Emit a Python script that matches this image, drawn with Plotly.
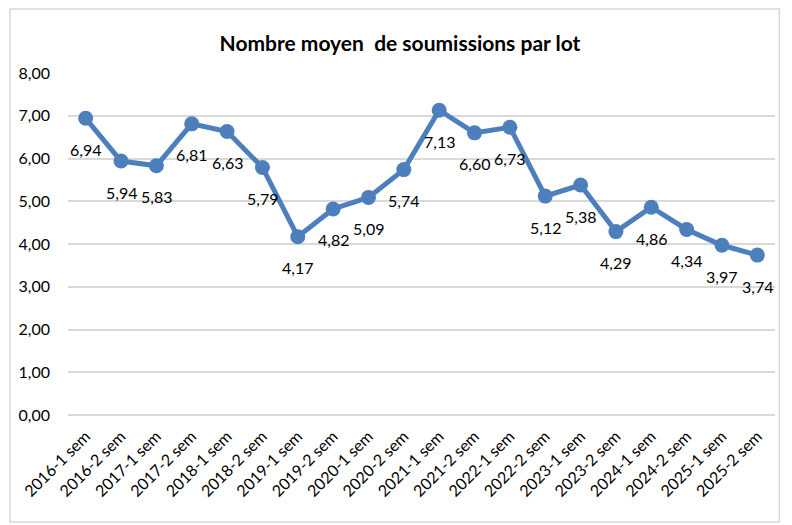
import plotly.graph_objects as go

categories = ["2016-1 sem", "2016-2 sem", "2017-1 sem", "2017-2 sem", "2018-1 sem",
              "2018-2 sem", "2019-1 sem", "2019-2 sem", "2020-1 sem", "2020-2 sem",
              "2021-1 sem", "2021-2 sem", "2022-1 sem", "2022-2 sem", "2023-1 sem",
              "2023-2 sem", "2024-1 sem", "2024-2 sem", "2025-1 sem", "2025-2 sem"]
values = [6.94, 5.94, 5.83, 6.81, 6.63, 5.79, 4.17, 4.82, 5.09, 5.74,
          7.13, 6.60, 6.73, 5.12, 5.38, 4.29, 4.86, 4.34, 3.97, 3.74]
title_text = "Nombre moyen\u00a0 de soumissions par lot"

FONT = "Lato, 'Open Sans', sans-serif"
BLUE = "#4E7FBD"
W, H = 784, 517

fig = go.Figure()
fig.add_trace(go.Scatter(
    x=categories, y=values, mode="lines+markers",
    line=dict(color=BLUE, width=5),
    marker=dict(color=BLUE, size=15),
    hoverinfo="skip", showlegend=False,
))

for c, v in zip(categories, values):
    fig.add_annotation(x=c, y=v, text=f"{v:.2f}".replace(".", ","),
                       showarrow=False, yshift=-31,
                       font=dict(family=FONT, size=16, color="#000000"))

fig.add_shape(type="rect", xref="paper", yref="paper",
              x0=-0.0820, x1=1.006, y0=-0.313, y1=1.187,
              line=dict(color="#D9D9D9", width=1.5), fillcolor="rgba(0,0,0,0)",
              layer="below")

fig.update_layout(
    width=W, height=H,
    margin=dict(l=60, r=17, t=65, b=110),
    paper_bgcolor="white", plot_bgcolor="white",
    separators=",.",
    title=dict(text="<b>" + title_text + "</b>", x=0.5, xanchor="center",
               y=1 - 36 / H, yanchor="middle", yref="container",
               font=dict(family=FONT, size=21, color="#000000")),
    font=dict(family=FONT, color="#000000"),
    xaxis=dict(type="category", tickangle=-45, showgrid=False, showline=False,
               ticks="", tickfont=dict(family=FONT, size=16, color="#000000"),
               range=[-0.5, len(categories) - 0.5], fixedrange=True,
               automargin=False, ticklabelstandoff=8),
    yaxis=dict(range=[0, 8], dtick=1, tickformat=".2f", showgrid=True,
               gridcolor="#D9D9D9", gridwidth=1.5, zeroline=True,
               zerolinecolor="#D9D9D9", zerolinewidth=1.5, showline=False,
               ticks="", ticklabelstandoff=17, automargin=False,
               tickfont=dict(family=FONT, size=16, color="#000000"),
               fixedrange=True),
)

fig.write_html("out.html")
